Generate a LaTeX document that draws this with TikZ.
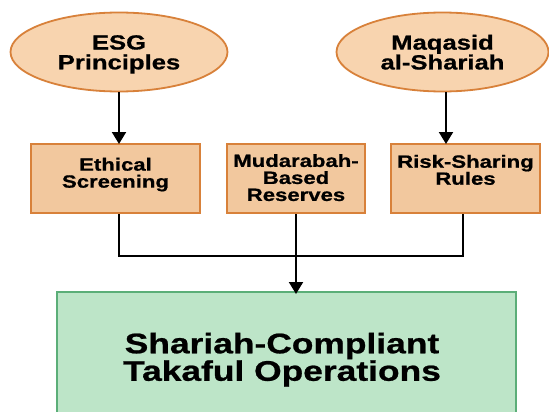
\documentclass[tikz,border=0pt]{standalone}
\usepackage{fontspec}
\newfontfamily\labfont{Liberation Sans}[FakeStretch=1.25,FakeBold=0.8]
\usetikzlibrary{arrows.meta,shapes.geometric}
\definecolor{ellfill}{HTML}{F8D4AF}
\definecolor{orangeline}{HTML}{D8813A}
\definecolor{boxfill}{HTML}{F2C89E}
\definecolor{greenfill}{HTML}{BDE5C8}
\definecolor{greenline}{HTML}{5BAE78}
\begin{document}
\begin{tikzpicture}[x=1pt,y=-1pt,
  oval/.style={ellipse, draw=orangeline, fill=ellfill, line width=1.8pt,
    minimum height=79pt, inner sep=0pt},
  stepbox/.style={rectangle, draw=orangeline, fill=boxfill, line width=2pt,
    minimum height=69pt, inner sep=0pt},
  bigbox/.style={rectangle, draw=greenline, fill=greenfill, line width=2pt,
    minimum width=459pt, minimum height=140pt, inner sep=0pt},
  ovaltxt/.style={align=center, inner sep=0pt,
    font=\labfont\bfseries\fontsize{20.5}{19.8}\selectfont},
  boxtxt/.style={align=center, inner sep=0pt,
    font=\labfont\bfseries\fontsize{17.7}{17}\selectfont},
  bigtxt/.style={align=center, inner sep=0pt,
    font=\labfont\bfseries\fontsize{28.3}{27.5}\selectfont},
  flow/.style={line width=2pt, draw=black},
  arr/.style={-{Triangle[length=12pt,width=14pt]}}
]
\fill[white] (0,0) rectangle (549,412);
\clip (0,0) rectangle (549,412);

% top ellipses
\node[oval, minimum width=217pt] (esg) at (119,52) {};
\node[ovaltxt] (esgt) at (119,54.4) {ESG\\Principles};
\node[oval, minimum width=212pt] (maq) at (442.5,52) {};
\node[ovaltxt] (maqt) at (442.5,52.2) {Maqasid\\al-Shariah};

% middle boxes
\node[stepbox, minimum width=169pt] (b1) at (115.5,178.5) {};
\node[boxtxt] (b1t) at (115.5,174.6) {Ethical\\Screening};
\node[stepbox, minimum width=138pt] (b2) at (296,178.5) {};
\node[boxtxt] (b2t) at (296,177.6) {Mudarabah-\\Based\\Reserves};
\node[stepbox, minimum width=149pt] (b3) at (465.5,178.5) {};
\node[boxtxt] (b3t) at (465.5,169.9) {Risk-Sharing\\Rules};

% bottom box
\node[bigbox] (ops) at (286.5,362) {};
\node[bigtxt] (opst) at (282,359.7) {Shariah-Compliant\\Takaful Operations};

% connectors
\coordinate (c1top) at (119,144);
\coordinate (c3top) at (446,144);
\coordinate (j1) at (119,256);
\coordinate (j3) at (463,256);

\draw[flow,arr] (esg.south -| c1top) -- (c1top);
\draw[flow,arr] (maq.south -| c3top) -- (c3top);
\draw[flow] (b1.south -| j1) -- (j1) -- (j3) -- (b3.south -| j3);
\draw[flow,arr] (b2.south) -- ([yshift=-3pt]ops.north -| b2.south);
\end{tikzpicture}
\end{document}
